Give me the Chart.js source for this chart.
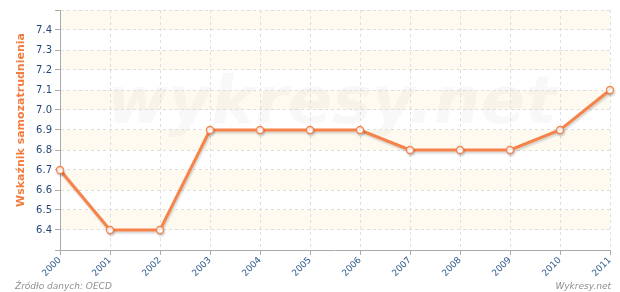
<!DOCTYPE html>
<html><head><meta charset="utf-8">
<script src="https://cdn.jsdelivr.net/npm/chart.js@4/dist/chart.umd.min.js"></script>
<style>
html,body{margin:0;padding:0;background:#fff;}
#wrap{position:relative;width:620px;height:292px;}
.note{position:absolute;font-family:"DejaVu Sans",sans-serif;font-style:italic;font-size:9px;color:#8f8f8f;}
</style></head>
<body>
<div id="wrap">
<canvas id="c" width="620" height="292"></canvas>
<div class="note" style="left:15px;top:281px;">Źródło danych: OECD</div>
<div class="note" style="right:9px;top:281px;">Wykresy.net</div>
</div>
<script>
const years = ["2000","2001","2002","2003","2004","2005","2006","2007","2008","2009","2010","2011"];
const values = [6.7,6.4,6.4,6.9,6.9,6.9,6.9,6.8,6.8,6.8,6.9,7.1];
const yTitle = "Wskaźnik samozatrudnienia";
const watermark = "wykresy.net";

const bands = {
  id:'bands',
  beforeDraw(chart){
    const {ctx, chartArea:a, scales:{y}} = chart;
    ctx.save();
    ctx.fillStyle = '#fefaf0';
    for (let v = 7.5; v > 6.35; v -= 0.2) {
      const t = y.getPixelForValue(v), b = y.getPixelForValue(v - 0.1);
      ctx.fillRect(a.left, t, a.right - a.left, b - t);
    }
    ctx.font = 'bold italic 66px "DejaVu Sans", sans-serif';
    ctx.fillStyle = 'rgba(0,0,0,0.028)';
    ctx.textAlign = 'center'; ctx.textBaseline = 'middle';
    ctx.fillText(watermark, 332, 106);
    ctx.restore();
  },
  afterDraw(chart){
    const ctx = chart.ctx;
    ctx.save();
    ctx.translate(21, 120);
    ctx.rotate(-Math.PI/2);
    ctx.font = 'bold 11px "DejaVu Sans", sans-serif';
    ctx.fillStyle = '#f27b3d';
    ctx.textAlign = 'center'; ctx.textBaseline = 'middle';
    ctx.fillText(yTitle, 0, 0);
    ctx.restore();
  }
};
const shadow = {
  id:'shadow',
  beforeDatasetsDraw(chart){
    const ctx = chart.ctx; ctx.save();
    ctx.shadowColor = 'rgba(0,0,0,0.16)'; ctx.shadowOffsetX = 1; ctx.shadowOffsetY = 2; ctx.shadowBlur = 2;
  },
  afterDatasetsDraw(chart){ chart.ctx.restore(); }
};

new Chart(document.getElementById('c'), {
  type:'line',
  data:{labels:years, datasets:[{data:values, borderColor:'#f5834a', borderWidth:3, tension:0,
    pointRadius:3.5, pointHoverRadius:3.5, pointBackgroundColor:'#fff', pointBorderColor:'#f5834a', pointBorderWidth:1.3, clip:false}]},
  options:{
    responsive:false, animation:false, devicePixelRatio:1,
    layout:{padding:{top:10,right:10,left:0,bottom:0}},
    plugins:{legend:{display:false}, tooltip:{enabled:false}},
    scales:{
      x:{offset:false,
        grid:{color:'#dedede', drawTicks:true, tickLength:5, tickColor:'#aaa'},
        border:{display:true, color:'#aaa', dash:[3,3]},
        ticks:{maxRotation:45, minRotation:45, color:'#2e5a8a', font:{family:'"DejaVu Sans", sans-serif', size:9}, padding:0, autoSkip:false},
        afterFit(s){ s.height = 42; }
      },
      y:{min:6.3, max:7.5,
        grid:{color:'#dedede', tickLength:5, tickColor:'#aaa'},
        border:{display:true, color:'#aaa', dash:[3,3]},
        ticks:{stepSize:0.1, color:'#244878', font:{family:'"DejaVu Sans", sans-serif', size:10}, padding:3,
          callback:(v)=>{ const r=Math.round(v*10)/10; if (r<6.35||r>7.45) return ''; return r.toFixed(1); }},
        afterFit(s){ s.width = 60; }
      }
    }
  },
  plugins:[bands, shadow]
});
</script>
</body></html>
